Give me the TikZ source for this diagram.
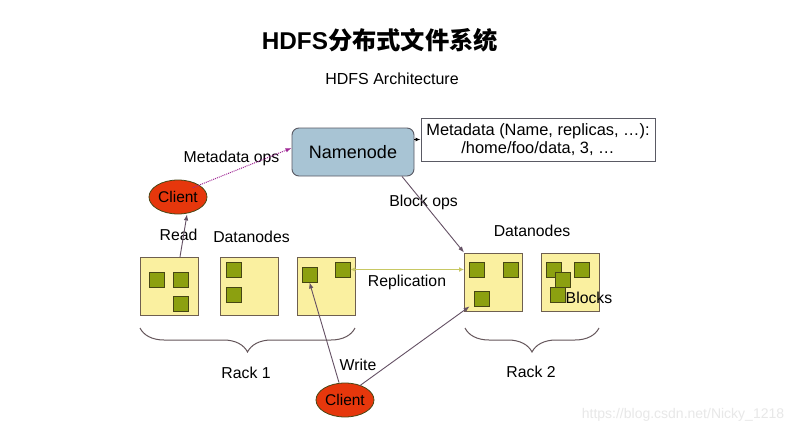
\documentclass[tikz,border=0pt]{standalone}
\usepackage{fontspec}
\setmainfont{Liberation Sans}
\newfontfamily\cjk{Noto Sans CJK SC}
\usetikzlibrary{arrows.meta,decorations.pathreplacing,shapes.geometric}
\definecolor{nnfill}{RGB}{168,196,212}
\definecolor{nnline}{RGB}{90,90,100}
\definecolor{clfill}{RGB}{230,55,12}
\definecolor{dnfill}{RGB}{250,240,160}
\definecolor{dnline}{RGB}{110,95,80}
\definecolor{blfill}{RGB}{140,160,16}
\definecolor{blline}{RGB}{70,70,20}
\definecolor{repl}{RGB}{200,200,100}
\definecolor{meta}{RGB}{160,40,150}
\definecolor{arr}{RGB}{100,80,100}
\definecolor{brace}{RGB}{100,85,90}
\begin{document}
\begin{tikzpicture}[x=1pt,y=-1pt,
  lbl/.style={font=\fontsize{15.8}{18}\selectfont, inner sep=0pt, anchor=center},
  dnode/.style={draw=dnline, fill=dnfill, line width=1pt, minimum width=58pt, minimum height=58pt, inner sep=0pt},
  blk/.style={draw=blline, fill=blfill, line width=0.8pt, minimum size=15pt, inner sep=0pt},
  client/.style={ellipse, draw=blline, fill=clfill, line width=0.8pt, minimum width=58pt, minimum height=34pt, inner sep=0pt, font=\fontsize{15.5}{17}\selectfont},
  conn/.style={draw=arr, line width=0.9pt, -{Latex[length=6pt,width=4.5pt]}},
  rbrace/.style={draw=brace, line width=1pt, decorate, decoration={brace, mirror, amplitude=24pt}}
]
\useasboundingbox (0,0) rectangle (809,436);
\fill[white] (0,0) rectangle (809,436);

% titles
\node[inner sep=0pt] (title) at (380,40) {\fontsize{24.3}{27}\selectfont\bfseries HDFS{\cjk\bfseries 分布式文件系统}};
\node[lbl] (arch) at (392,79) {\fontsize{16}{18}\selectfont HDFS Architecture};

% namenode and metadata
\node[draw=nnline, fill=nnfill, rounded corners=7pt, line width=0.9pt, minimum width=122pt, minimum height=48pt, font=\fontsize{18}{20}\selectfont] (nn) at (353,152) {Namenode};
\node[draw=nnline, line width=1pt, minimum width=234pt, minimum height=43pt, align=center, font=\fontsize{16.4}{18.5}\selectfont, inner sep=0pt] (md) at (538,139.5) {Metadata (Name, replicas, \dots):\\/home/foo/data, 3, \dots};
\draw[draw=black, line width=0.9pt, -{Latex[length=5pt,width=4pt]}] (nn.east |- md.west) -- (md.west);

% clients
\node[client] (c1) at (178,197) {Client};
\node[client] (c2) at (345,400) {Client};

% datanodes rack 1
\node[dnode] (d1) at (169,286.5) {};
\node[dnode] (d2) at (249.5,286.5) {};
\node[dnode] (d3) at (326,286.5) {};
% datanodes rack 2
\node[dnode] (d4) at (493.5,282) {};
\node[dnode] (d5) at (570,282) {};

% blocks
\node[blk] (b11) at (156.5,279.5) {};
\node[blk] (b12) at (180.5,279.5) {};
\node[blk] (b13) at (180.5,303.5) {};
\node[blk] (b21) at (233.5,269.5) {};
\node[blk] (b22) at (233.5,294.5) {};
\node[blk] (b31) at (309.5,274.5) {};
\node[blk] (b32) at (342.5,269.5) {};
\node[blk] (b41) at (476.5,269.5) {};
\node[blk] (b42) at (510.5,269.5) {};
\node[blk] (b43) at (481.5,298.5) {};
\node[blk] (b51) at (553.5,269.5) {};
\node[blk] (b52) at (581.5,269.5) {};
\node[blk] (b53) at (562.5,279.5) {};
\node[blk] (b54) at (557.5,294.5) {};

% labels
\node[lbl] (lmo) at (231.5,158) {Metadata ops};
\node[lbl] (lbo) at (423.5,202) {Block ops};
\node[lbl] (lread) at (178.5,235) {Read};
\node[lbl] (ldn1) at (251.5,237) {Datanodes};
\node[lbl] (ldn2) at (532,231) {Datanodes};
\node[lbl] (lrep) at (407,282) {Replication};
\node[lbl] (lblk) at (589,298) {Blocks};
\node[lbl] (lr1) at (246,373) {Rack 1};
\node[lbl] (lr2) at (531,372) {Rack 2};
\node[lbl] (lwr) at (358,365) {Write};

% connectors
\draw[draw=meta, line width=1pt, densely dotted, -{Latex[length=6pt,width=4.5pt]}] (c1.north east) ++(-6,3) coordinate (mos) (mos) -- (nn.west |- 0,148);
\draw[conn] ([xshift=11pt]d1.north) -- ([xshift=9pt]c1.south);
\draw[conn] ([xshift=49pt]nn.south) -- (d4.north west);
\draw[draw=repl, line width=1.2pt, {Latex[length=5pt,width=5pt]}-{Latex[length=5pt,width=5pt]}] (b32.east) -- (d4.west |- b32.east);
\draw[conn] ([xshift=-6pt]c2.north) -- (b31.south);
\draw[conn] ([xshift=-6pt,yshift=2pt]c2.north east) -- ([xshift=-4pt]b43.south west);

% braces
\draw[rbrace] (140,328) -- (355,328);
\draw[rbrace] (465,328) -- (599,328);

% watermark
\node[text=black!9, font=\fontsize{14}{16}\selectfont, inner sep=0pt] (wm) at (683,415) {https://blog.csdn.net/Nicky\_1218};
\end{tikzpicture}
\end{document}
